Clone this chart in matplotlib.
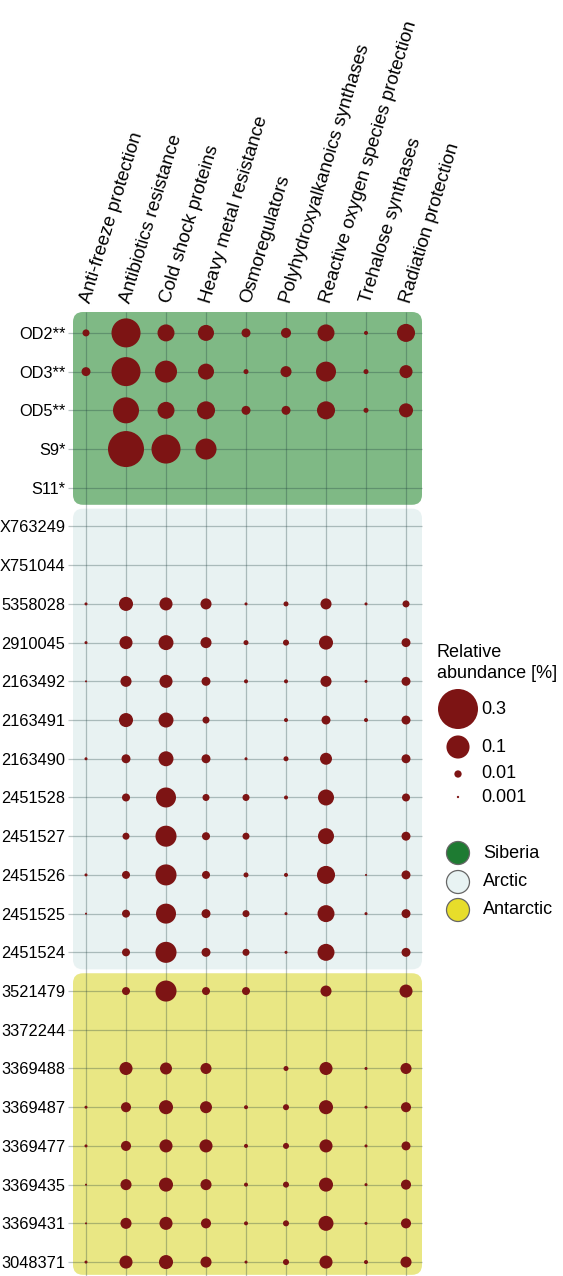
import numpy as np
import matplotlib
matplotlib.use("Agg")
import matplotlib.pyplot as plt
from matplotlib.patches import FancyBboxPatch

plt.rcParams['font.family'] = ['Liberation Sans', 'DejaVu Sans']

# ---------------- data ----------------
categories = ["Anti-freeze protection", "Antibiotics resistance", "Cold shock proteins",
              "Heavy metal resistance", "Osmoregulators", "Polyhydroxyalkanoics synthases",
              "Reactive oxygen species protection", "Trehalose synthases", "Radiation protection"]

samples = ["OD2**", "OD3**", "OD5**", "S9*", "S11*",
           "X763249", "X751044", "5358028", "2910045", "2163492", "2163491", "2163490",
           "2451528", "2451527", "2451526", "2451525", "2451524",
           "3521479", "3372244", "3369488", "3369487", "3369477", "3369435", "3369431", "3048371"]

regions = ["Siberia", "Arctic", "Antarctic"]
region_sizes = [5, 12, 8]

anti_freeze = [0.0092, 0.015, 0, 0, 0, 0, 0, 0.0017, 0.0017, 0.00075, 0, 0.0017, 0, 0, 0.0017,
               0.00075, 0, 0, 0, 0, 0.0017, 0.0017, 0.00075, 0.00075, 0.0017]
antibiotics = [0.158, 0.158, 0.127, 0.243, 0, 0, 0, 0.037, 0.032, 0.023, 0.037, 0.015, 0.012,
               0.0092, 0.012, 0.012, 0.012, 0.012, 0, 0.032, 0.019, 0.019, 0.023, 0.023, 0.032]
cold_shock = [0.054, 0.091, 0.054, 0.158, 0, 0, 0, 0.032, 0.042, 0.032, 0.042, 0.042, 0.075,
              0.083, 0.083, 0.075, 0.083, 0.083, 0, 0.027, 0.037, 0.032, 0.037, 0.032, 0.037]
heavy_metal = [0.048, 0.048, 0.061, 0.083, 0, 0, 0, 0.023, 0.023, 0.015, 0.0092, 0.015, 0.0092,
               0.012, 0.012, 0.015, 0.015, 0.012, 0, 0.023, 0.027, 0.032, 0.023, 0.019, 0.023]
osmoregulators = [0.015, 0.0047, 0.015, 0, 0, 0, 0, 0.0017, 0.0047, 0.003, 0, 0.0017, 0.0092,
                  0.0092, 0.0047, 0.0092, 0.0092, 0.012, 0, 0, 0.003, 0.003, 0.003, 0.003, 0.0017]
polyhydroxy = [0.019, 0.023, 0.015, 0, 0, 0, 0, 0.0047, 0.0068, 0.003, 0.003, 0.0047, 0.003, 0,
               0.003, 0.0017, 0.0017, 0, 0, 0.0047, 0.0068, 0.0068, 0.0068, 0.0068, 0.0068]
ros = [0.054, 0.075, 0.061, 0, 0, 0, 0, 0.023, 0.037, 0.023, 0.015, 0.027, 0.048, 0.048, 0.061,
       0.054, 0.054, 0.023, 0, 0.032, 0.037, 0.032, 0.037, 0.042, 0.032]
trehalose = [0.003, 0.0047, 0.0047, 0, 0, 0, 0, 0.0017, 0, 0.0017, 0.003, 0, 0, 0, 0.00075,
             0.0017, 0, 0, 0, 0.0017, 0.0017, 0.0017, 0.0017, 0.0017, 0.003]
radiation = [0.061, 0.032, 0.037, 0, 0, 0, 0, 0.0092, 0.015, 0.015, 0.015, 0.015, 0.012, 0.015,
             0.015, 0.015, 0.015, 0.032, 0, 0.023, 0.019, 0.015, 0.019, 0.019, 0.023]

columns = [anti_freeze, antibiotics, cold_shock, heavy_metal, osmoregulators,
           polyhydroxy, ros, trehalose, radiation]

legend_values = [0.3, 0.1, 0.01, 0.001]
legend_labels = ["0.3", "0.1", "0.01", "0.001"]

# ---------------- style ----------------
bubble_color = "#7d1414"
panel_colors = ["#7fb985", "#e8f2f2", "#e9e784"]
region_colors = ["#1e7b32", "#e8f3f3", "#e7dd2b"]
grid_color = "#1a3a3a"

W, H, DPI = 563, 1276, 100


def bubble_size(v):
    d_px = 40.0 * np.sqrt(np.asarray(v, dtype=float) / 0.3)
    return (d_px * 72.0 / DPI) ** 2


fig = plt.figure(figsize=(W / DPI, H / DPI), dpi=DPI)
ax = fig.add_axes([68 / W, 0, 356 / W, 964 / H])
ax.set_xlim(-0.45, 8.45)
ax.set_ylim(24.36, -0.54)
for s in ax.spines.values():
    s.set_visible(False)
ax.set_facecolor("none")

# background panels
start = 0
for i, n in enumerate(region_sizes):
    top = -0.54 if i == 0 else start - 0.46
    bot = start + n - 1 + 0.44
    if i == len(region_sizes) - 1:
        bot = 24.33
    p = FancyBboxPatch((-0.325, top), 8.4 + 0.325, bot - top,
                       boxstyle="round,pad=0,rounding_size=0.25", mutation_aspect=1.033,
                       facecolor=panel_colors[i], edgecolor="none", zorder=1)
    ax.add_patch(p)
    start += n

nrows = len(samples)
ncols = len(categories)
ax.hlines(np.arange(nrows), -0.45, 8.4, colors=grid_color, alpha=0.3, lw=0.9, zorder=2)
ax.vlines(np.arange(ncols), -0.54, 24.36, colors=grid_color, alpha=0.3, lw=0.9, zorder=2)

for j, col in enumerate(columns):
    vals = np.asarray(col, dtype=float)
    rows = np.nonzero(vals > 0)[0]
    ax.scatter(np.full(len(rows), j), rows, s=bubble_size(vals[rows]),
               color=bubble_color, linewidths=0, zorder=3)

ax.set_yticks(np.arange(nrows))
ax.set_yticklabels(samples, fontsize=11.8)
ax.tick_params(axis="y", length=0, pad=2)
ax.set_xticks([])

for j, c in enumerate(categories):
    ax.text(j, -0.78, c, rotation=73, rotation_mode="anchor", ha="left", va="center",
            fontsize=13.5, clip_on=False)

# ---------------- legend ----------------
lax = fig.add_axes([0, 0, 1, 1])
lax.set_xlim(0, W)
lax.set_ylim(H, 0)
lax.axis("off")
lax.patch.set_alpha(0)

lax.text(437, 663, "Relative\nabundance [%]", fontsize=13, ha="left", va="center",
         linespacing=1.3)
leg_y = [709, 747, 774, 797]
lax.scatter([458] * len(legend_values), leg_y, s=bubble_size(legend_values),
            color=bubble_color, linewidths=0)
for y, lab in zip(leg_y, legend_labels):
    lax.text(481, y, lab, fontsize=13, ha="left", va="center")

reg_y = [853, 882, 910]
lax.scatter([458] * len(regions), reg_y, s=(23 * 72 / DPI) ** 2, color=region_colors,
            edgecolors="#666666", linewidths=0.9)
for y, lab in zip(reg_y, regions):
    lax.text(483, y, lab, fontsize=13, ha="left", va="center")

fig.savefig("out.png", dpi=DPI)
